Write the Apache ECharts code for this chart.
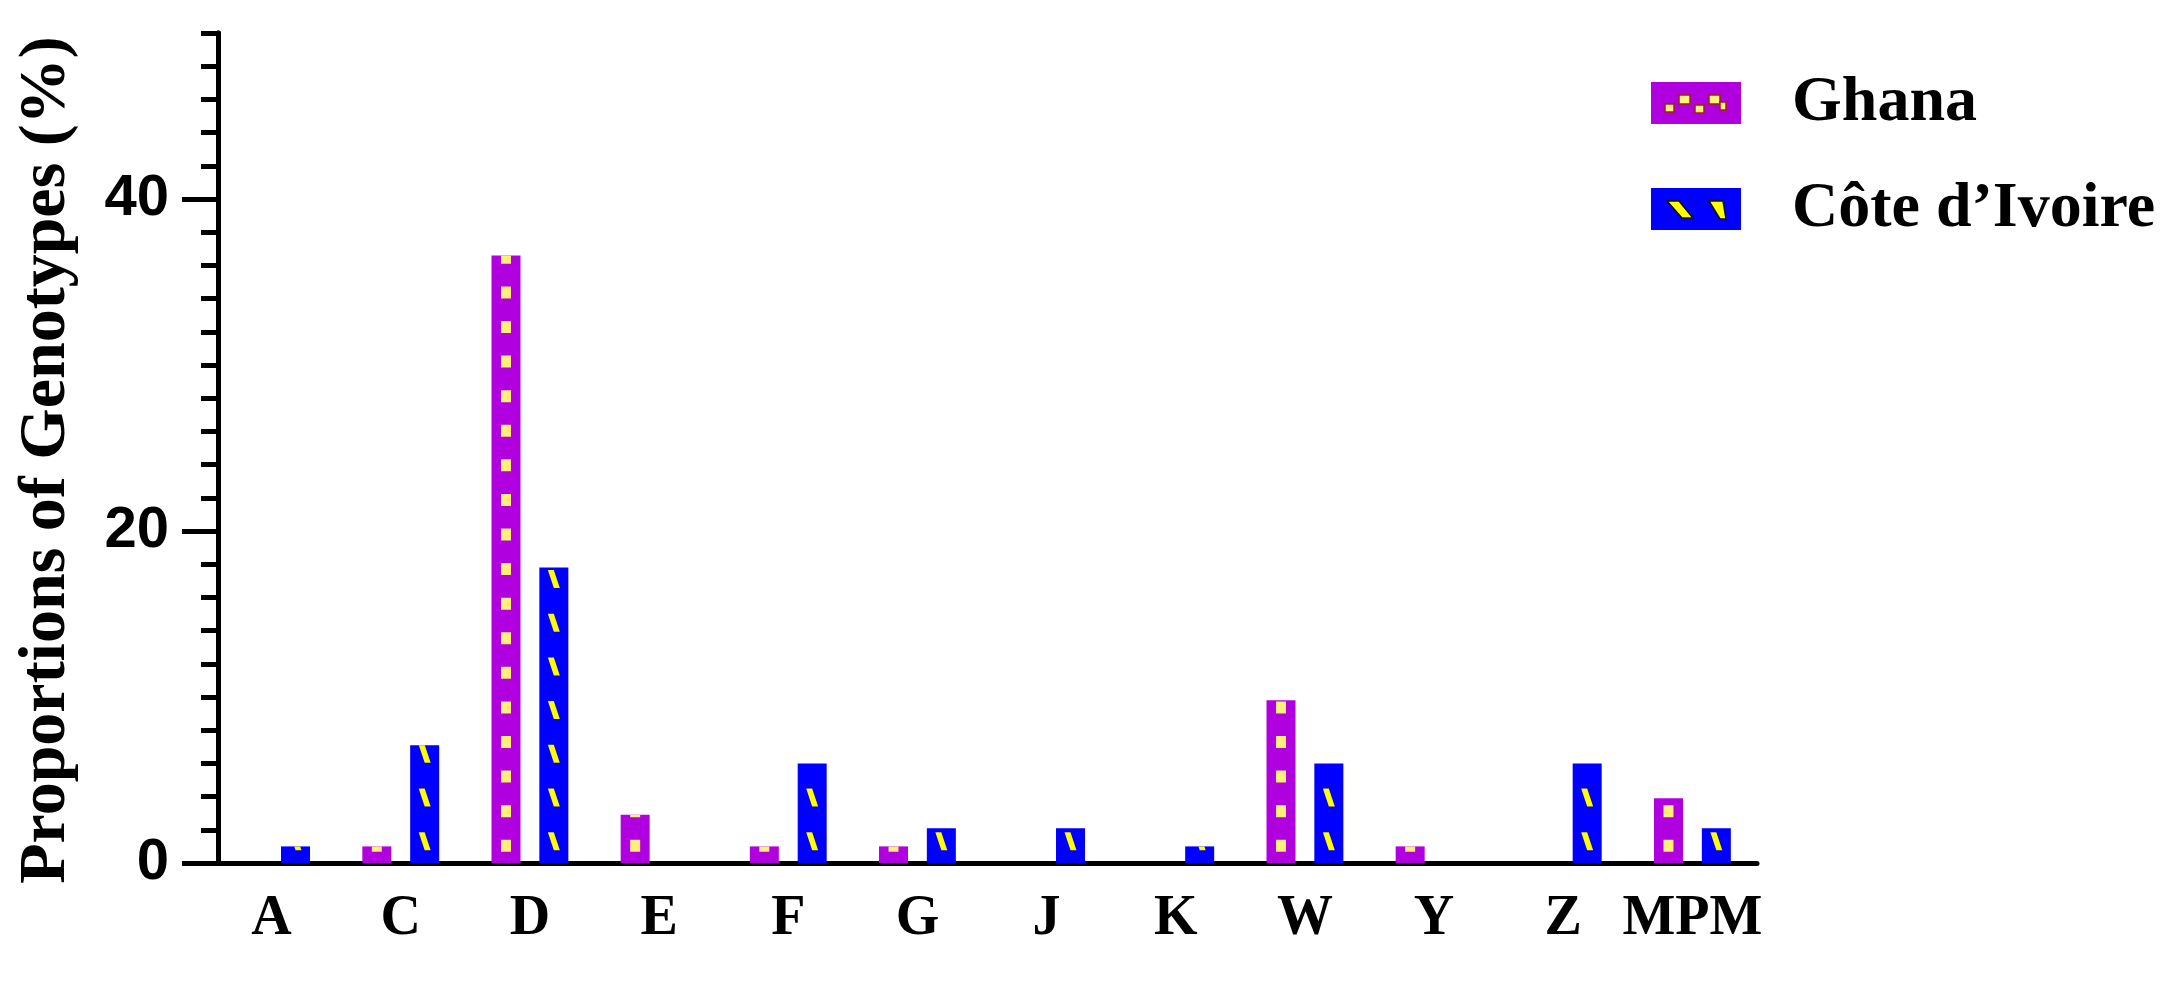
<!DOCTYPE html>
<html><head><meta charset="utf-8">
<script src="https://cdn.jsdelivr.net/npm/echarts@6/dist/echarts.min.js"></script>
<style>html,body{margin:0;padding:0;background:#fff}#c{width:2182px;height:985px}</style>
</head><body><div id="c"></div>
<script>
// ---- data ----
const categories = ['A','C','D','E','F','G','J','K','W','Y','Z','MPM'];
const ghana      = [null, 1.0, 36.6, 2.9, 1.0, 1.0, null, null, 9.8, 1.0, null, 3.9];
const coteIvoire = [1.0, 7.1, 17.8, null, 6.0, 2.1, 2.1, 1.0, 6.0, null, 6.0, 2.1];
const seriesNames = ['Ghana', 'Côte d’Ivoire'];
const yTickValues = [0, 20, 40];
const yTitle = 'Proportions of Genotypes (%)';

// ---- styles ----
const MAGENTA = '#b000e0', BLUE = '#0000ff';
function svgIcon(svg){ return 'image://data:image/svg+xml;charset=utf-8,' + encodeURIComponent(svg); }
const ghanaIcon = svgIcon("<svg xmlns='http://www.w3.org/2000/svg' width='90' height='42'><rect width='90' height='42' fill='" + MAGENTA + "'/>" +
  "<g fill='#fff07a' stroke='#9a2020' stroke-width='1.5'><rect x='14' y='22' width='9' height='8'/><rect x='28' y='13' width='11' height='9'/><rect x='44' y='23' width='9' height='8'/><rect x='58' y='13' width='11' height='9'/><rect x='69' y='20' width='6' height='8'/></g></svg>");
const coteIcon = svgIcon("<svg xmlns='http://www.w3.org/2000/svg' width='90' height='42'><rect width='90' height='42' fill='" + BLUE + "'/>" +
  "<g fill='#ffff00' stroke='#111' stroke-width='1.5'><path d='M16 13 L28 13 L42 30 L31 30 Z'/><path d='M58 13 L72 13 L75 31 L69 31 Z'/></g></svg>");

const dashPath = 'path://M0,0 L6,0 L12,18 L6,18 Z';

const chart = echarts.init(document.getElementById('c'), null, {renderer: 'canvas'});
const axisColor = '#000';
chart.setOption({
  animation: false,
  backgroundColor: '#fff',
  grid: {left: 207, right: 425, top: 33, bottom: 122, containLabel: false},
  legend: {
    orient: 'vertical', left: 1646, top: 66,
    itemWidth: 90, itemHeight: 42, itemGap: 42,
    data: [{name: seriesNames[0], icon: ghanaIcon}, {name: seriesNames[1], icon: coteIcon}],
    textStyle: {fontFamily: 'Liberation Serif', fontWeight: 'bold', fontSize: 64, color: '#000', padding: [0,0,0,46]},
    selectedMode: false
  },
  xAxis: {
    type: 'category', data: categories,
    axisLine: {lineStyle: {color: axisColor, width: 5}},
    axisTick: {alignWithLabel: true, length: 34, lineStyle: {color: axisColor, width: 5}},
    axisLabel: {fontFamily: 'Liberation Serif', fontWeight: 'bold', fontSize: 56, color: '#000', margin: 29, interval: 0},
    splitLine: {show: false}
  },
  yAxis: [
    {
      type: 'value', min: 0, max: 50, interval: 2, position: 'left', offset: -11,
      axisLine: {show: true, lineStyle: {color: axisColor, width: 5}},
      axisTick: {show: true, length: 17, lineStyle: {color: axisColor, width: 5}},
      axisLabel: {show: false},
      splitLine: {show: false}
    },
    {
      type: 'value', min: 0, max: 50, interval: 2, position: 'left', offset: -11,
      name: yTitle, nameLocation: 'middle', nameGap: 138, nameRotate: 90,
      nameTextStyle: {fontFamily: 'Liberation Serif', fontWeight: 'bold', fontSize: 66, color: '#000', padding: [0, 24, 0, 0]},
      axisLine: {show: true, lineStyle: {color: axisColor, width: 5}},
      axisTick: {show: true, length: 36, customValues: yTickValues, lineStyle: {color: axisColor, width: 5}},
      axisLabel: {show: true, customValues: yTickValues, margin: 49, fontFamily: 'Liberation Sans', fontWeight: 'bold', fontSize: 58, color: '#000'},
      splitLine: {show: false}
    }
  ],
  series: [
    {name: seriesNames[0], type: 'bar', data: ghana, barWidth: 29, barGap: '65%', itemStyle: {color: MAGENTA}},
    {name: seriesNames[1], type: 'bar', data: coteIvoire, barWidth: 29, barGap: '65%', itemStyle: {color: BLUE}},
    {name: seriesNames[0], type: 'pictorialBar', data: ghana, barWidth: 29, barGap: '65%', z: 3, silent: true,
     symbol: 'rect', symbolSize: [10, 12], symbolRepeat: 'fixed', symbolMargin: '11!', symbolClip: true, symbolBoundingData: 50,
     itemStyle: {color: '#fff07a', borderColor: '#9a2020', borderWidth: 1.5}},
    {name: seriesNames[1], type: 'pictorialBar', data: coteIvoire, barWidth: 29, barGap: '65%', z: 3, silent: true,
     symbol: dashPath, symbolSize: [12, 18], symbolRepeat: 'fixed', symbolMargin: '12!', symbolClip: true, symbolBoundingData: 50,
     itemStyle: {color: '#ffff00', borderColor: '#111', borderWidth: 1.5}}
  ]
});
</script></body></html>
